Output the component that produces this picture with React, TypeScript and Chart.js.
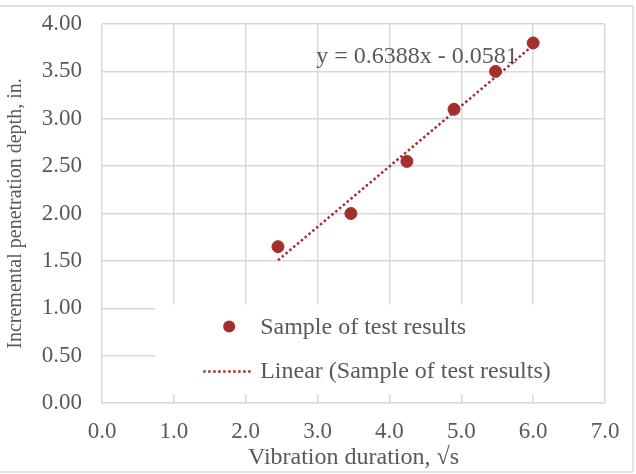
import React, { useEffect, useRef } from "react";
import { Chart, registerables } from "chart.js";

Chart.register(...registerables);

const xValues = [2.449, 3.464, 4.243, 4.899, 5.477, 6.0];
const yValues = [1.65, 2.0, 2.55, 3.1, 3.5, 3.8];
const trendSlope = 0.6388;
const trendIntercept = -0.0581;
const seriesName = "Sample of test results";
const trendName = "Linear (Sample of test results)";
const equationText = "y = 0.6388x - 0.0581";
const xTitle = "Vibration duration, √s";
const yTitle = "Incremental penetration depth, in.";

const RED = "#A3302D";
const TEXT = "#595959";
const GRID = "#d9d9d9";
const FONT = "'Liberation Serif', 'Times New Roman', serif";

const overlayPlugin = {
  id: "overlay",
  beforeDraw(chart: any) {
    const ctx = chart.ctx;
    ctx.save();
    ctx.fillStyle = "#fff";
    ctx.fillRect(0, 0, chart.width, chart.height);
    ctx.restore();
  },
  beforeDatasetsDraw(chart: any) {
    const ctx = chart.ctx;
    const xs = chart.scales.x;
    const ys = chart.scales.y;
    ctx.save();
    const bx = xs.getPixelForValue(0.74);
    const bTop = ys.getPixelForValue(1.04);
    const bBottom = ys.getPixelForValue(0.09);
    const bRight = chart.chartArea.right - 1;
    ctx.fillStyle = "#fff";
    ctx.fillRect(bx, bTop, bRight - bx, bBottom - bTop);
    ctx.fillStyle = RED;
    ctx.beginPath();
    ctx.arc(bx + 74, bTop + 22, 6, 0, Math.PI * 2);
    ctx.fill();
    ctx.strokeStyle = RED;
    ctx.lineWidth = 2.5;
    ctx.setLineDash([2.5, 2.5]);
    ctx.beginPath();
    ctx.moveTo(bx + 48, bTop + 67);
    ctx.lineTo(bx + 97, bTop + 67);
    ctx.stroke();
    ctx.setLineDash([]);
    ctx.fillStyle = TEXT;
    ctx.font = `24px ${FONT}`;
    ctx.textBaseline = "alphabetic";
    ctx.textAlign = "left";
    ctx.fillText(seriesName, bx + 105, bTop + 30);
    ctx.fillText(trendName, bx + 105, bTop + 74);
    ctx.fillText(equationText, xs.getPixelForValue(2.98), ys.getPixelForValue(3.59));
    ctx.restore();
  },
  afterDraw(chart: any) {
    const ctx = chart.ctx;
    ctx.save();
    ctx.strokeStyle = GRID;
    ctx.lineWidth = 1.5;
    ctx.strokeRect(-2, 6, 635, 466);
    ctx.restore();
  },
};

export default function App() {
  const ref = useRef<HTMLCanvasElement>(null);
  useEffect(() => {
    document.body.style.margin = "0";
    const xMin = Math.min(...xValues);
    const xMax = Math.max(...xValues);
    const chart = new Chart(ref.current!, {
      type: "scatter",
      data: {
        datasets: [
          {
            label: seriesName,
            data: xValues.map((x, i) => ({ x, y: yValues[i] })),
            backgroundColor: RED,
            borderColor: RED,
            pointRadius: 6,
            pointHoverRadius: 6,
            order: 1,
          },
          {
            label: trendName,
            type: "line",
            data: [
              { x: xMin, y: trendSlope * xMin + trendIntercept },
              { x: xMax, y: trendSlope * xMax + trendIntercept },
            ],
            borderColor: RED,
            borderWidth: 2.5,
            borderDash: [2.5, 2.5],
            pointRadius: 0,
            showLine: true,
            fill: false,
            order: 2,
          } as any,
        ],
      },
      options: {
        animation: false,
        responsive: false,
        devicePixelRatio: 1,
        layout: { padding: { left: 0, right: 31, top: 24, bottom: 0 } },
        plugins: { legend: { display: false }, tooltip: { enabled: false } },
        scales: {
          x: {
            type: "linear",
            min: 0,
            max: 7,
            afterFit: (s: any) => {
              s.height = 71;
              s.paddingLeft = 0;
              s.paddingRight = 0;
            },
            ticks: {
              stepSize: 1,
              padding: 15,
              color: TEXT,
              font: { family: FONT, size: 23 },
              callback: (v: any) => Number(v).toFixed(1),
            },
            grid: { color: GRID, lineWidth: 1.5, drawTicks: false },
            border: { display: true, color: GRID, width: 1.5 },
            title: {
              display: true,
              text: xTitle,
              color: TEXT,
              font: { family: FONT, size: 24 },
              padding: { top: 0, bottom: 2 },
            },
          },
          y: {
            type: "linear",
            min: 0,
            max: 4,
            afterFit: (s: any) => {
              s.width = 102;
              s.paddingTop = 0;
              s.paddingBottom = 0;
            },
            ticks: {
              stepSize: 0.5,
              padding: 20,
              color: TEXT,
              font: { family: FONT, size: 23 },
              callback: (v: any) => Number(v).toFixed(2),
            },
            grid: { color: GRID, lineWidth: 1.5, drawTicks: false },
            border: { display: false },
            title: {
              display: true,
              text: yTitle,
              color: TEXT,
              font: { family: FONT, size: 20 },
              padding: { top: 4, bottom: 0 },
            },
          },
        },
      },
      plugins: [overlayPlugin],
    });
    return () => chart.destroy();
  }, []);
  return (
    <div style={{ width: 636, height: 474 }}>
      <canvas ref={ref} width={636} height={474} style={{ display: "block" }} />
    </div>
  );
}
